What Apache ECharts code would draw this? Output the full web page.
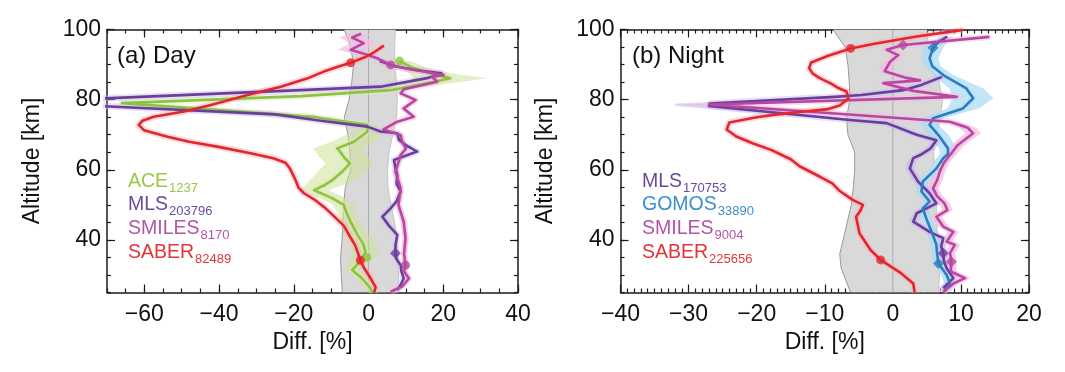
<!DOCTYPE html>
<html><head><meta charset="utf-8">
<script src="https://cdn.jsdelivr.net/npm/echarts@6/dist/echarts.min.js"></script>
<style>html,body{margin:0;padding:0;background:#fff}#c{width:1065px;height:372px}</style>
</head><body><div id="c"></div>
<script>
// ---------------- DATA (altitude km, difference %) ----------------
// Panel (a) Day
const saberDayAlt  = [25,26.5,29.5,32,34.2,36.5,38.5,41,44,46.5,49,51.5,53.3,55,57.2,60.3,62,63.3,64.7,66.6,68,69.4,71.3,72.8,74,75.1,76.6,78.5,81.3,83.7,86,88,89.5,90.5,92,93.5,95.4];
const saberDayDiff = [1.5,1.9,0.3,-1.2,-2.2,-2.9,-3.6,-5,-6.6,-9,-11.5,-14.5,-17.3,-18.8,-19.6,-21,-22.2,-25.5,-31.6,-40.5,-48,-53.8,-60.1,-61.5,-60.5,-57.5,-49.4,-42.2,-32.4,-23.5,-16.5,-12,-7.8,-4.8,-1.2,1.5,4.1];

const mlsDayAlt  = [25.7,27,29,31,32.8,34.5,36.2,38.5,41.4,44,46.6,49,51,53.8,56,58.5,60.5,62.8,65.2,67,68.6,70.4,70.9,72.3,74,75.8,78.2,80.3,82.7,83.7,86.2,87.5,88.5,89.5,91];
const mlsDayDiff = [7.7,8.5,9.4,8.8,8.6,7.5,7.2,7.2,7.7,5.5,3.7,5.9,7.5,8.6,7.5,7.7,7.2,6.8,13.0,10,8.1,7.7,3.2,-0.3,-12.8,-25,-72,-72,-18.2,3.2,16,19.5,12,7,3];

const aceDayAlt  = [25,26.2,27.5,29,31.4,33,34.8,36.6,39,41.5,45.2,48,50,52,54.2,55.5,57.2,59.5,61.8,63.5,65,66.1,68,70.9,72.8,74.2,75,79,81,82.7,84.5,86.1,87.3,89,91];
const aceDayDiff = [1.0,0.5,-0.5,-1.7,-4.4,-3,-1.7,-0.8,-1.5,-3,-4.8,-6,-6.6,-9.9,-14.6,-12,-9.5,-7,-5,-6.5,-7.5,-8.4,-3.9,-0.3,-0.3,-9.3,-14,-66,-18,5.9,15,21.9,17,12,8.3];
const aceDayErr  = [1.5,1.5,1.5,1.5,1.8,2.5,3,3.5,3.5,3,2.5,2.5,3,3.5,4,5,6,6.5,6.5,6.5,6.5,6.5,6,4,3,3,3,2,2,3,6,10,6,4,3];

const smilesDayAlt  = [25.2,26.7,29,31,32.8,36,40.5,45.2,50,54.7,59.5,64.2,66,68,69.9,71.5,73.7,75.1,77.5,79.9,81.8,83,85.1,86.5,87,88.5,89.9,91.8,93,94.2,96.1,97.7,98.8];
const smilesDayDiff = [5.9,9,10.8,9.5,9.9,9.5,9.9,9.4,8,8.6,7.2,8.6,10,9,8.6,4,7.7,12.1,9.4,12.6,8.6,9.5,18.4,17,20.1,12,5.9,2.3,-1,-4.8,-1.3,-4.4,-2];
const smilesDayErr  = [0.8,0.8,0.8,0.8,0.8,0.8,0.8,0.8,0.8,0.8,0.8,0.8,0.8,0.8,0.8,0.8,0.8,0.8,0.8,0.8,0.8,0.8,1,1,1,1,1.2,2,3,3.5,3.5,3.5,3];

const bandDayAlt = [25,30,35,40,45,50,55,60,65,70,75,80,85,90,95,100];
const bandDayLo  = [-7,-7.3,-7.5,-7.1,-6.9,-6.7,-6.2,-4.8,-5,-5.5,-6.5,-5.2,-4.5,-4,-4.8,-6.5];
const bandDayHi  = [8.1,8,8,7.7,7,6,5.2,5.1,5.5,6.5,7.5,7.7,7.5,7,7,7.2];

// Panel (b) Night
const saberNightAlt  = [25,27.6,30.5,34.3,37.2,41.9,46.6,48.5,50,51.4,54.1,56.1,58,61,63,65.6,67.5,69.5,71.5,73.5,75,75.8,76.6,77.3,78.3,80.3,82.3,83.3,84.5,86.2,87.5,89,90.6,92.5,94.6,96,98,99.9];
const saberNightDiff = [3.2,3.0,1.2,-1.8,-3.3,-4.9,-5.4,-4.7,-4.4,-5.9,-7.9,-8.9,-10.7,-13.7,-15,-17.8,-20.5,-23,-24.4,-24,-20,-17,-13,-9.5,-7.8,-6.5,-6.8,-8,-9,-10.8,-11.8,-12.3,-12,-9.5,-6.2,-2.5,3.5,10.3];

const mlsNightAlt  = [26.2,29.1,31.9,34,36.2,38.1,40.5,42.3,45.2,47.6,50.4,53.3,56.6,60.4,63.3,64.2,66,68.4,70,73.3,74.2,78.2,78.9,80.8,81.3,82.7,84.2,86.5,null,95.5,98];
const mlsNightDiff = [7.4,8.9,7.9,7.5,7.4,7.1,7.4,5.4,3.0,3.5,6.4,5.4,3.7,2.5,3.0,4.0,5.5,6.4,3.5,-0.9,-6.3,-27,-26.9,-8.5,-4.6,1.5,4.2,7.2,null,6,8];
const mlsNightErr  = [0.7,0.7,0.7,0.7,0.7,0.7,0.7,0.7,0.7,0.7,0.7,0.7,0.7,0.7,0.7,0.7,0.7,0.7,0.8,1,1.5,5,5,1.5,1,1,1,1,null,1,1];

const gomosNightAlt  = [25.2,27.6,30,33.3,36,38.6,42.3,46.2,49,50.9,53.8,56.6,60.4,63.3,64.5,66.1,69.9,72.8,74.7,77.5,80.4,83.2,87,89.5,91.8,94.8,97];
const gomosNightDiff = [7.6,8.4,7.9,6.7,6.5,6.4,5.7,4.9,4.4,5.4,4.2,4.4,6.4,7.4,8.1,8.1,6.7,5.4,5.9,10.3,11.8,10.8,7.4,5.8,5.4,5.9,7];
const gomosNightErr  = [0.8,0.8,0.8,0.8,0.8,0.8,0.8,0.8,0.8,0.8,0.8,0.8,0.9,1,1.2,1.3,1.5,1.3,1.5,2.3,3,2.5,1.5,1.2,1.3,1.5,1.2];

const smilesNightAlt  = [25.2,27.6,29.1,31,33.8,36.2,38.6,39.5,42.3,43.8,46.6,48.5,50.4,52.5,54.7,57,59.5,62,64.2,67,70.4,72,73.7,78.6,80.8,82.5,84.7,85.5,86.2,88.1,90.8,92.7,94.2,95.6,97.9];
const smilesNightDiff = [7.4,8.9,10.6,8.5,8.6,8.4,9.1,7.9,8.9,7.4,6.4,8,7.6,6.5,5.9,6.5,6.9,7.5,8.4,9.5,11.8,11,8.4,-27,9.4,3,-1.4,4,2,-1.2,-0.4,0.8,-0.9,1.5,14.2];
const smilesNightErr  = [0.8,0.8,0.8,0.8,0.8,0.8,0.8,0.8,0.8,0.8,0.8,0.8,0.8,0.8,0.8,0.8,0.8,0.8,0.9,1,1.2,1.2,1.2,5,1.5,1,1,1,1,1,1,1,1,1,1];

const bandNightAlt = [25,28,32,36,40,45,50,55,60,65,70,75,80,85,90,95,100];
const bandNightLo  = [-6.2,-6.8,-7.6,-7.8,-7.3,-6.7,-6.1,-5.8,-5.6,-5.6,-6.6,-6.8,-6.3,-6.4,-6.6,-7.0,-8.8];
const bandNightHi  = [6.7,6.8,6.9,6.9,6.7,6.4,6.4,6.4,6.2,6.0,6.4,7.0,7.3,6.8,5.5,5.2,5.0];

// markers
const saberDayMarkAlt = [90.5,34.2], saberDayMarkDiff = [-4.8,-2.2];
const aceDayMarkAlt = [91,35], aceDayMarkDiff = [8.3,-0.5];
const mlsDayMarkAlt = [36.2], mlsDayMarkDiff = [7.2];
const smilesDayMarkAlt = [89.9,32.8], smilesDayMarkDiff = [5.9,9.9];
const saberNightMarkAlt = [94.6,34.3], saberNightMarkDiff = [-6.2,-1.8];
const mlsNightMarkAlt = [36.2], mlsNightMarkDiff = [7.4];
const gomosNightMarkAlt = [94.8,33.3], gomosNightMarkDiff = [5.9,6.7];
const smilesNightMarkAlt = [95.6,33.8], smilesNightMarkDiff = [1.5,8.6];

// axis ticks
const xMajorDay = [-60,-40,-20,0,20,40];
const yMajor = [40,60,80,100];
const zeroDiff = 0;

// legend
const dayLegend = [['ACE','1237','ace'],['MLS','203796','mls'],['SMILES','8170','smiles'],['SABER','82489','saber']];
const nightLegend = [['MLS','170753','mls'],['GOMOS','33890','gomos'],['SMILES','9004','smiles'],['SABER','225656','saber']];

// ---------------- STYLE ----------------
const F = 'Liberation Sans, Arial, Helvetica, sans-serif';
const COL = {saber:'#e2262c', mls:'#6a3e9d', smiles:'#b8489f', ace:'#8cc441', gomos:'#2c7cc1'};
const TXT = {saber:'#e0353b', mls:'#6b4a9e', smiles:'#b255a4', ace:'#9bc84a', gomos:'#3d8fd0'};
const HALO = {saber:'#f6aebb', mls:'#cbbbe6', smiles:'#f0bde2', ace:'#dbe9b5', gomos:'#b7dff5'};
const ENV = {ace:'rgba(205,225,150,0.55)', smiles:'rgba(245,190,228,0.7)', gomos:'rgba(170,218,245,0.7)', mls:'rgba(205,190,235,0.6)'};
const AL = {color:'#1a1a1a', width:1.5};
const TL = {color:'#1a1a1a', width:1.2};

function zip(alt, diff){ return alt.map((a,i)=> a==null ? ['-','-'] : [diff[i], a]); }
function fmt(v){ return v<0 ? '\u2212'+Math.abs(v) : String(v); }

function bandSeries(alt, lo, hi, xi, yi){
  return {type:'custom', xAxisIndex:xi, yAxisIndex:yi, z:1, silent:true, clip:true, data:[[zeroDiff,60]],
    renderItem:function(p, api){
      const L = alt.map((a,i)=>api.coord([lo[i],a]));
      const R = alt.map((a,i)=>api.coord([hi[i],a]));
      const z0 = api.coord([zeroDiff,alt[0]]), z1 = api.coord([zeroDiff,alt[alt.length-1]]);
      return {type:'group', children:[
        {type:'polygon', shape:{points:L.concat(R.slice().reverse())}, style:{fill:'#d9d9d9'}},
        {type:'polyline', shape:{points:L}, style:{stroke:'#8f8f8f', lineWidth:0.9, fill:null}},
        {type:'polyline', shape:{points:R}, style:{stroke:'#bdbdbd', lineWidth:0.8, fill:null}},
        {type:'line', shape:{x1:z0[0], y1:z0[1], x2:z1[0], y2:z1[1]}, style:{stroke:'#ababab', lineWidth:1}}
      ]};
    }};
}
function envSeries(alt, diff, err, fill, xi, yi){
  return {type:'custom', xAxisIndex:xi, yAxisIndex:yi, z:2, silent:true, clip:true, data:[[zeroDiff,60]],
    renderItem:function(p, api){
      const segs=[]; let cur=[];
      alt.forEach((a,i)=>{ if(a==null){ if(cur.length) segs.push(cur); cur=[]; } else cur.push(i); });
      if(cur.length) segs.push(cur);
      return {type:'group', children: segs.map(seg=>{
        const pts = seg.map(i=>api.coord([diff[i]-err[i],alt[i]])).concat(seg.slice().reverse().map(i=>api.coord([diff[i]+err[i],alt[i]])));
        return {type:'polygon', shape:{points:pts}, style:{fill:fill}};
      })};
    }};
}
function lineSeries(alt, diff, key, xi, yi, z){
  return [
    {type:'line', xAxisIndex:xi, yAxisIndex:yi, data:zip(alt,diff), symbol:'none', showSymbol:false, silent:true, z:3, clip:true,
     lineStyle:{color:HALO[key], width:6.5, opacity:0.45, join:'round'}},
    {type:'line', xAxisIndex:xi, yAxisIndex:yi, data:zip(alt,diff), symbol:'none', showSymbol:false, silent:true, z:z, clip:true,
     lineStyle:{color:COL[key], width:2.6, join:'round'}}
  ];
}
function markSeries(alt, diff, key, sym, xi, yi){
  return {type:'scatter', xAxisIndex:xi, yAxisIndex:yi, data:zip(alt,diff), symbol:sym, symbolSize:sym==='diamond'?11:9, silent:true, z:8,
    itemStyle:{color:COL[key]}};
}

function xAxesFor(g, min, max, interval, labelsCustom, minorSplit){
  const lbl = {fontFamily:F, fontSize:23, color:'#111', margin:11, formatter:fmt};
  const nm = {name:'Diff. [%]', nameLocation:'middle', nameGap:37, nameTextStyle:{fontFamily:F, fontSize:23, color:'#111'}};
  if (labelsCustom){
    return [
      {gridIndex:g, type:'value', min, max, interval, position:'bottom', axisLine:{show:true,onZero:false,lineStyle:AL}, axisTick:{inside:true,length:4,lineStyle:TL}, axisLabel:{show:false}, splitLine:{show:false}},
      Object.assign({gridIndex:g, type:'value', min, max, interval, position:'bottom', axisLine:{show:false,onZero:false}, axisTick:{inside:true,length:8,customValues:labelsCustom,lineStyle:TL}, axisLabel:Object.assign({customValues:labelsCustom}, lbl), splitLine:{show:false}}, nm),
      {gridIndex:g, type:'value', min, max, interval, position:'top', axisLine:{show:true,onZero:false,lineStyle:AL}, axisTick:{inside:true,length:4,lineStyle:TL}, axisLabel:{show:false}, splitLine:{show:false}},
      {gridIndex:g, type:'value', min, max, interval, position:'top', axisLine:{show:false,onZero:false}, axisTick:{inside:true,length:8,customValues:labelsCustom,lineStyle:TL}, axisLabel:{show:false}, splitLine:{show:false}}
    ];
  }
  return [
    Object.assign({gridIndex:g, type:'value', min, max, interval, position:'bottom', axisLine:{show:true,onZero:false,lineStyle:AL}, axisTick:{inside:true,length:8,lineStyle:TL}, minorTick:{show:true,splitNumber:minorSplit,length:4,lineStyle:TL}, axisLabel:lbl, splitLine:{show:false}, minorSplitLine:{show:false}}, nm),
    {gridIndex:g, type:'value', min, max, interval, position:'top', axisLine:{show:true,onZero:false,lineStyle:AL}, axisTick:{inside:true,length:8,lineStyle:TL}, minorTick:{show:true,splitNumber:minorSplit,length:4,lineStyle:TL}, axisLabel:{show:false}, splitLine:{show:false}, minorSplitLine:{show:false}}
  ];
}
function yAxesFor(g){
  const base = {gridIndex:g, type:'value', min:25, max:100, interval:5, splitLine:{show:false}};
  return [
    Object.assign({}, base, {position:'left', axisLine:{show:true,onZero:false,lineStyle:AL}, axisTick:{inside:true,length:4,lineStyle:TL}, axisLabel:{show:false}}),
    Object.assign({}, base, {position:'left', axisLine:{show:false,onZero:false}, axisTick:{inside:true,length:8,customValues:yMajor,lineStyle:TL}, axisLabel:{customValues:yMajor, fontFamily:F, fontSize:23, color:'#111', margin:6}, name:'Altitude [km]', nameLocation:'middle', nameGap:63, nameTextStyle:{fontFamily:F, fontSize:23, color:'#111'}}),
    Object.assign({}, base, {position:'right', axisLine:{show:true,onZero:false,lineStyle:AL}, axisTick:{inside:true,length:4,lineStyle:TL}, axisLabel:{show:false}}),
    Object.assign({}, base, {position:'right', axisLine:{show:false,onZero:false}, axisTick:{inside:true,length:8,customValues:yMajor,lineStyle:TL}, axisLabel:{show:false}})
  ];
}

const xAxes = xAxesFor(0, -70, 40, 5, xMajorDay, 0).concat(xAxesFor(1, -40, 20, 10, null, 10)); // 0..3 day, 4..5 night
const yAxes = yAxesFor(0).concat(yAxesFor(1)); // 0..3 day, 4..7 night

function legendTitles(items, left, tops){
  return items.map((it,i)=>({text:'{m|'+it[0]+'}{s|'+it[1]+'}', left:left, top:tops[i], padding:0,
    textStyle:{fontWeight:'normal', rich:{
      m:{fontFamily:F, fontSize:19.5, fontWeight:'normal', color:TXT[it[2]], lineHeight:22},
      s:{fontFamily:F, fontSize:13, fontWeight:'normal', color:TXT[it[2]], lineHeight:13, padding:[13,0,0,1]}
    }}}));
}
const legTops = [171, 194, 218, 241.5];

const DX=0, DY=0, NX=4, NY=4;
const series = [
  bandSeries(bandDayAlt, bandDayLo, bandDayHi, DX, DY),
  envSeries(aceDayAlt, aceDayDiff, aceDayErr, ENV.ace, DX, DY),
  envSeries(smilesDayAlt, smilesDayDiff, smilesDayErr, ENV.smiles, DX, DY),
  ...lineSeries(aceDayAlt, aceDayDiff, 'ace', DX, DY, 4),
  ...lineSeries(mlsDayAlt, mlsDayDiff, 'mls', DX, DY, 5),
  ...lineSeries(smilesDayAlt, smilesDayDiff, 'smiles', DX, DY, 5),
  ...lineSeries(saberDayAlt, saberDayDiff, 'saber', DX, DY, 6),
  markSeries(aceDayMarkAlt, aceDayMarkDiff, 'ace', 'circle', DX, DY),
  markSeries(mlsDayMarkAlt, mlsDayMarkDiff, 'mls', 'diamond', DX, DY),
  markSeries(smilesDayMarkAlt, smilesDayMarkDiff, 'smiles', 'circle', DX, DY),
  markSeries(saberDayMarkAlt, saberDayMarkDiff, 'saber', 'circle', DX, DY),

  bandSeries(bandNightAlt, bandNightLo, bandNightHi, NX, NY),
  envSeries(gomosNightAlt, gomosNightDiff, gomosNightErr, ENV.gomos, NX, NY),
  envSeries(smilesNightAlt, smilesNightDiff, smilesNightErr, ENV.smiles, NX, NY),
  envSeries(mlsNightAlt, mlsNightDiff, mlsNightErr, ENV.mls, NX, NY),
  ...lineSeries(mlsNightAlt, mlsNightDiff, 'mls', NX, NY, 5),
  ...lineSeries(gomosNightAlt, gomosNightDiff, 'gomos', NX, NY, 5),
  ...lineSeries(smilesNightAlt, smilesNightDiff, 'smiles', NX, NY, 5),
  ...lineSeries(saberNightAlt, saberNightDiff, 'saber', NX, NY, 6),
  markSeries(mlsNightMarkAlt, mlsNightMarkDiff, 'mls', 'diamond', NX, NY),
  markSeries(gomosNightMarkAlt, gomosNightMarkDiff, 'gomos', 'diamond', NX, NY),
  markSeries(smilesNightMarkAlt, smilesNightMarkDiff, 'smiles', 'diamond', NX, NY),
  markSeries(saberNightMarkAlt, saberNightMarkDiff, 'saber', 'circle', NX, NY)
];

const chart = echarts.init(document.getElementById('c'), null, {renderer:'canvas'});
chart.setOption({
  animation:false,
  backgroundColor:'#fff',
  grid:[
    {left:107, top:29.5, width:411, height:263, outerBoundsMode:'none', containLabel:false},
    {left:620.5, top:29.5, width:408.5, height:263, outerBoundsMode:'none', containLabel:false}
  ],
  title:[
    {text:'(a) Day', left:117, top:44, padding:0, textStyle:{fontFamily:F, fontSize:24, fontWeight:'normal', color:'#111'}},
    {text:'(b) Night', left:632, top:44, padding:0, textStyle:{fontFamily:F, fontSize:24, fontWeight:'normal', color:'#111'}}
  ].concat(legendTitles(dayLegend, 128, legTops)).concat(legendTitles(nightLegend, 642, legTops)),
  xAxis: xAxes,
  yAxis: yAxes,
  series: series
});
</script></body></html>
